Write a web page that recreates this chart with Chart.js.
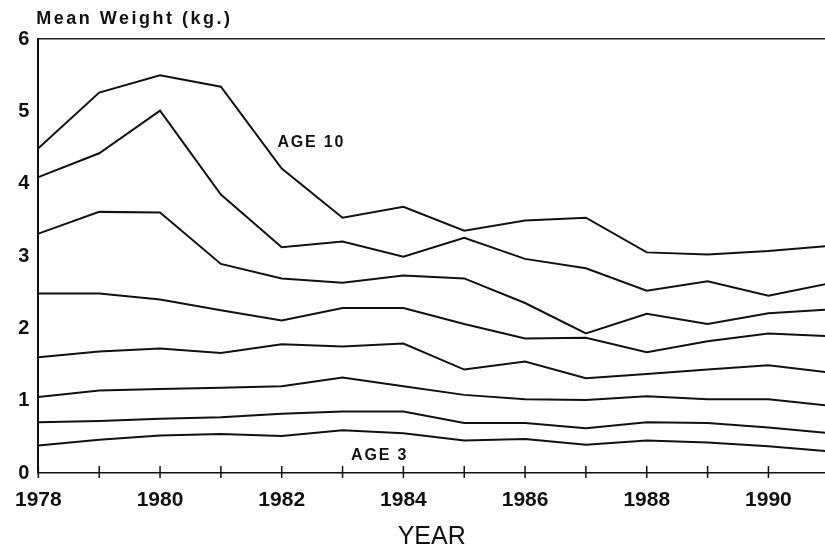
<!DOCTYPE html>
<html>
<head>
<meta charset="utf-8">
<script src="https://cdn.jsdelivr.net/npm/chart.js@4/dist/chart.umd.min.js"></script>
<style>
html,body{margin:0;padding:0;background:#fff;}
#wrap{width:825px;height:552px;position:relative;}
</style>
</head>
<body>
<div id="wrap"><canvas id="c" width="825" height="552"></canvas></div>
<script>
// ---- data ----
const years = [1978,1979,1980,1981,1982,1983,1984,1985,1986,1987,1988,1989,1990,1991];
const age10 = [4.49,5.26,5.50,5.34,4.21,3.53,3.68,3.35,3.49,3.53,3.05,3.02,3.07,3.14];
const age9  = [4.09,4.42,5.01,3.85,3.12,3.20,2.99,3.25,2.96,2.83,2.52,2.65,2.45,2.62];
const age8  = [3.31,3.61,3.60,2.89,2.69,2.63,2.73,2.69,2.35,1.93,2.20,2.06,2.21,2.26];
const age7  = [2.48,2.48,2.40,2.25,2.11,2.28,2.28,2.06,1.86,1.87,1.67,1.82,1.93,1.89];
const age6  = [1.60,1.68,1.72,1.66,1.78,1.75,1.79,1.43,1.54,1.31,1.37,1.43,1.49,1.39];
const age5  = [1.05,1.14,1.16,1.18,1.20,1.32,1.20,1.08,1.02,1.01,1.06,1.02,1.02,0.93];
const age4  = [0.70,0.72,0.75,0.77,0.82,0.85,0.85,0.69,0.69,0.62,0.70,0.69,0.63,0.55];
const age3  = [0.38,0.46,0.52,0.54,0.51,0.59,0.55,0.45,0.47,0.39,0.45,0.42,0.37,0.30];
const seriesNames = ['AGE 10','AGE 9','AGE 8','AGE 7','AGE 6','AGE 5','AGE 4','AGE 3'];
const seriesValues = [age10,age9,age8,age7,age6,age5,age4,age3];
const xTickYears = [1978,1979,1980,1981,1982,1983,1984,1985,1986,1987,1988,1989,1990];
const xTickLabels = ['1978','','1980','','1982','','1984','','1986','','1988','','1990'];
const yTickValues = [0,1,2,3,4,5,6];
const yTitle = 'Mean Weight (kg.)';
const xTitle = 'YEAR';
const lineLabels = [{text:'AGE 10', x:1981.93, y:4.57},{text:'AGE 3', x:1983.14, y:0.24}];

const datasets = seriesValues.map((vals,i)=>({
  label: seriesNames[i],
  data: years.map((yr,j)=>({x:yr, y:vals[j]})),
  borderColor:'#111',
  borderWidth:2,
  pointRadius:0,
  tension:0,
  fill:false
}));

const decor = {
  id:'decor',
  afterDraw(chart){
    const {ctx, scales:{x,y}, chartArea} = chart;
    const y0 = y.getPixelForValue(0);
    ctx.save();
    ctx.strokeStyle='#111';
    ctx.lineWidth=1.5;
    xTickYears.forEach(v=>{
      const px = x.getPixelForValue(v);
      ctx.beginPath(); ctx.moveTo(px,y0-7); ctx.lineTo(px,y0+5); ctx.stroke();
    });
    ctx.fillStyle='#111';
    ctx.textBaseline='middle';
    ctx.textAlign='left';
    ctx.font='bold 18px "Liberation Sans", Arial, sans-serif';
    ctx.letterSpacing='2.5px';
    ctx.fillText(yTitle, chartArea.left-2, chartArea.top-20);
    ctx.font='bold 16px "Liberation Sans", Arial, sans-serif';
    ctx.letterSpacing='1.8px';
    lineLabels.forEach(l=>{
      ctx.fillText(l.text, x.getPixelForValue(l.x), y.getPixelForValue(l.y));
    });
    ctx.restore();
  }
};

new Chart(document.getElementById('c'), {
  type:'line',
  data:{datasets},
  options:{
    responsive:false,
    animation:false,
    layout:{padding:{top:39,right:0,left:0,bottom:0}},
    plugins:{legend:{display:false}, tooltip:{enabled:false}, title:{display:false}},
    scales:{
      x:{
        type:'linear',
        min:1978, max:1990.93,
        afterBuildTicks(scale){ scale.ticks = xTickYears.map(v=>({value:v})); },
        afterFit(scale){ scale.height = 79; },
        ticks:{
          autoSkip:false, maxRotation:0,
          padding:15,
          color:'#111',
          font:{family:'"Liberation Sans", Arial, sans-serif', size:21, weight:'bold'},
          callback(v){ const i = xTickYears.indexOf(v); return i>=0 ? xTickLabels[i] : ''; }
        },
        grid:{display:true, drawOnChartArea:false, drawTicks:false},
        border:{display:true, color:'#111', width:1.5},
        title:{display:true, text:xTitle, color:'#111', padding:{top:0,bottom:0},
          font:{family:'"Liberation Sans", Arial, sans-serif', size:25, weight:'normal'}}
      },
      y:{
        min:0, max:6,
        afterBuildTicks(scale){ scale.ticks = yTickValues.map(v=>({value:v})); },
        afterFit(scale){ scale.width = 35; },
        ticks:{
          padding:9, color:'#111',
          font:{family:'"Liberation Sans", Arial, sans-serif', size:20, weight:'bold'}
        },
        grid:{
          drawTicks:false,
          color(c){ return c.tick && c.tick.value===6 ? '#222' : 'rgba(0,0,0,0)'; },
          lineWidth:1.5
        },
        border:{display:true, color:'#111', width:2}
      }
    }
  },
  plugins:[decor]
});
</script>
</body>
</html>
